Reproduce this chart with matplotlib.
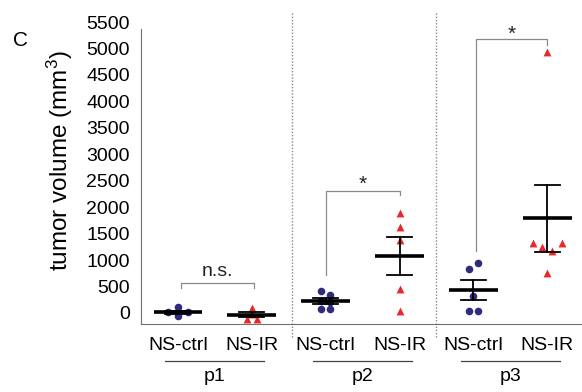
import numpy as np
import matplotlib
matplotlib.use("Agg")
import matplotlib.pyplot as plt
import matplotlib.transforms as mtransforms

plt.rcParams['font.family'] = ['Liberation Sans', 'DejaVu Sans']
plt.rcParams['mathtext.fontset'] = 'custom'
plt.rcParams['mathtext.rm'] = 'Liberation Sans'
plt.rcParams['mathtext.it'] = 'Liberation Sans:italic'

# data (tumor volume, mm3)
groups = ['p1', 'p2', 'p3']
conditions = ['NS-ctrl', 'NS-IR']
p1_ctrl = [110, 20, 10, 0, -60]
p1_ir = [95, -20, -110, -110]
p2_ctrl = [420, 340, 230, 200, 70, 70]
p2_ir = [1885, 1630, 1380, 460, 45]
p3_ctrl = [950, 840, 320, 30, 30]
p3_ir = [4940, 1317, 1247, 1172, 1317, 762]
yticks = list(range(0, 5501, 500))

# horizontal spread of the dots (in marker slots)
jit_p1_ctrl = [0, -1, 1, 0, 0]
jit_p1_ir = [0, 0, -0.5, 0.5]
jit_p2_ctrl = [-0.5, 0.5, -0.5, 0.5, -0.5, 0.5]
jit_p2_ir = [0, 0, 0, 0, 0]
jit_p3_ctrl = [0.5, -0.5, 0, -0.5, 0.5]
jit_p3_ir = [0, -1.5, -0.5, 0.5, 1.5, 0]

series = [p1_ctrl, p1_ir, p2_ctrl, p2_ir, p3_ctrl, p3_ir]
jitters = [jit_p1_ctrl, jit_p1_ir, jit_p2_ctrl, jit_p2_ir, jit_p3_ctrl, jit_p3_ir]

blue = '#2f2b7e'
red = '#e8282b'
grey = '#8a8a8a'

fig = plt.figure(figsize=(5.82, 3.92), dpi=100)
ax = fig.add_axes([141/582, 68/392, 441/582, 304/392])

slot = 0.13
for i, (vals, jit) in enumerate(zip(series, jitters)):
    vals = np.array(vals, dtype=float)
    xs = i + slot*np.array(jit)
    if i % 2 == 0:
        ax.scatter(xs, vals, s=30, marker='o', color=blue, zorder=2, linewidths=0)
    else:
        ax.scatter(xs, vals, s=32, marker='^', color=red, zorder=2, linewidths=0)
    m = vals.mean()
    sem = vals.std(ddof=1)/np.sqrt(len(vals))
    ax.plot([i-0.33, i+0.33], [m, m], color='black', lw=2.6, zorder=3, solid_capstyle='butt')
    ax.plot([i, i], [m-sem, m+sem], color='black', lw=1.3, zorder=3)
    for y in (m-sem, m+sem):
        ax.plot([i-0.17, i+0.17], [y, y], color='black', lw=1.3, zorder=3)

# significance brackets
def bracket(x0, x1, top, left_end, right_end, label, dy, fs):
    ax.plot([x0, x0, x1, x1], [left_end, top, top, right_end], color=grey, lw=0.9, zorder=1)
    ax.text((x0+x1)/2, top+dy, label, ha='center', va='center', fontsize=fs, color='#222222')

bracket(0.04, 1.03, 561, 472, 472, 'n.s.', 215, 14)
bracket(2.0, 3.0, 2306, 718, 2230, '*', 130, 15)
bracket(4.04, 5.0, 5180, 1172, 5066, '*', 95, 15)

ax.set_xlim(-0.5, 5.47)
ax.set_ylim(-208, 5539)
ax.set_yticks(yticks)
ax.set_yticklabels([str(t) for t in yticks])
ax.set_xticks(range(6))
ax.set_xticklabels(conditions*3)
ax.tick_params(axis='y', length=0, pad=8, labelsize=14)
ax.tick_params(axis='x', length=0, pad=9, labelsize=14)

for s in ['top', 'right']:
    ax.spines[s].set_visible(False)
ax.spines['left'].set_bounds(-208, 5370)
ax.spines['left'].set_color('#707070')
ax.spines['bottom'].set_color('#707070')

trans = mtransforms.blended_transform_factory(ax.transData, ax.transAxes)
for x in (1.55, 3.5):
    ax.plot([x, x], [-0.043, 1.026], transform=trans, color=grey, lw=1.0,
            ls=(0, (1, 1.3)), clip_on=False)
for k, g in enumerate(groups):
    c = 2*k + 0.5
    ax.plot([c-0.67, c+0.67], [-0.121, -0.121], transform=trans, color='#444444',
            lw=0.9, clip_on=False)
    ax.text(c, -0.173, g, transform=trans, ha='center', va='center', fontsize=14)

fig.text(60/582, 1-161/392, 'tumor volume (mm$^3$)', rotation=90, ha='center',
         va='center', fontsize=17.5)
fig.text(20/582, 1-41/392, 'C', ha='center', va='center', fontsize=15)

fig.savefig('out.png', dpi=100)
